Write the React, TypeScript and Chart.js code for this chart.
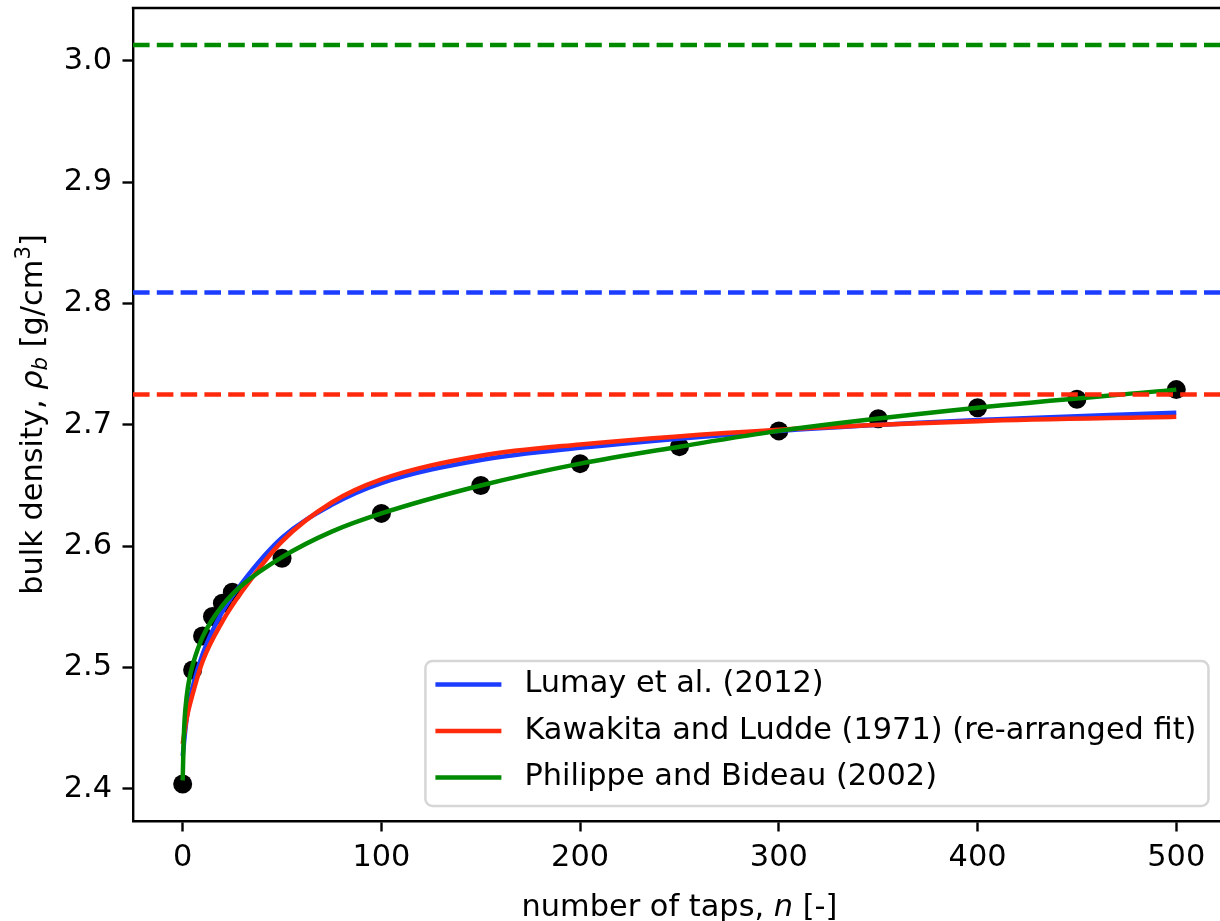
import { useEffect, useRef } from "react";
import { Chart, registerables } from "chart.js";

Chart.register(...registerables);

const FONT_FAMILY = "'DejaVu Sans', 'Liberation Sans', sans-serif";
const FONT_SIZE = 30.4;

// Measured tapped bulk density
const TAPS = [0, 5, 10, 15, 20, 25, 50, 100, 150, 200, 250, 300, 350, 400, 450, 500];
const MEASURED_DENSITY = [
  2.404, 2.498, 2.526, 2.542, 2.553, 2.562, 2.59, 2.627, 2.65, 2.668, 2.682, 2.695,
  2.705, 2.714, 2.721, 2.729,
];

// Fitted compaction curves (tap count, density) pairs
const LUMAY_TAPS = [0, 2, 5, 10, 20, 30, 50, 75, 100, 150, 200, 300, 400, 500];
const LUMAY_FIT = [
  2.427, 2.458, 2.484, 2.511, 2.546, 2.57, 2.607, 2.634, 2.652, 2.671, 2.681, 2.695,
  2.704, 2.71,
];
const KAWAKITA_TAPS = [0, 2, 5, 10, 20, 30, 50, 75, 100, 150, 200, 300, 400, 500];
const KAWAKITA_FIT = [
  2.437, 2.458, 2.478, 2.505, 2.538, 2.563, 2.604, 2.636, 2.655, 2.6745, 2.6838, 2.696,
  2.703, 2.7066,
];
const PHILIPPE_TAPS = [
  0, 0.5, 1, 2, 3.5, 5, 10, 20, 30, 50, 75, 100, 150, 200, 250, 300, 400, 500,
];
const PHILIPPE_FIT = [
  2.407, 2.44, 2.458, 2.476, 2.492, 2.502, 2.525, 2.551, 2.568, 2.591, 2.612, 2.627,
  2.65, 2.668, 2.682, 2.695, 2.714, 2.729,
];

// Asymptotic (n -> infinity) densities of each fit
const LUMAY_LIMIT = 2.809;
const KAWAKITA_LIMIT = 2.725;
const PHILIPPE_LIMIT = 3.013;

const SERIES_LABELS = [
  "Lumay et al. (2012)",
  "Kawakita and Ludde (1971) (re-arranged fit)",
  "Philippe and Bideau (2002)",
];

const X_TICKS = [0, 100, 200, 300, 400, 500];
const Y_TICKS = [2.4, 2.5, 2.6, 2.7, 2.8, 2.9, 3.0];

const X_AXIS_START = -25;
const X_AXIS_END = 525;
const X_VISIBLE_END = 522;
const Y_MIN = 2.3735;
const Y_MAX = 3.0435;

const BLUE = "#1c3cff";
const RED = "#ff2a0c";
const GREEN = "#008a00";
const LINE_W = 4.5;
const DASH = [16.6, 7.2];

type Seg = { text: string; italic?: boolean; scale?: number; shift?: number };

function segFont(s: Seg) {
  const size = FONT_SIZE * (s.scale ?? 1);
  return `${s.italic ? "italic " : ""}${size}px ${FONT_FAMILY}`;
}

function drawRich(ctx: CanvasRenderingContext2D, segs: Seg[], cx: number, baseline: number) {
  let total = 0;
  const widths = segs.map((s) => {
    ctx.font = segFont(s);
    const w = ctx.measureText(s.text).width;
    total += w;
    return w;
  });
  let x = cx - total / 2;
  ctx.textAlign = "left";
  ctx.textBaseline = "alphabetic";
  segs.forEach((s, i) => {
    ctx.font = segFont(s);
    ctx.fillText(s.text, x, baseline + (s.shift ?? 0));
    x += widths[i];
  });
}

const X_TITLE: Seg[] = [
  { text: "number of taps, " },
  { text: "n", italic: true },
  { text: " [-]" },
];
const Y_TITLE: Seg[] = [
  { text: "bulk density, " },
  { text: "ρ", italic: true },
  { text: "b", italic: true, scale: 0.7, shift: 5 },
  { text: " [g/cm" },
  { text: "3", scale: 0.7, shift: -12 },
  { text: "]" },
];

const framePlugin = {
  id: "frameAndAnnotations",
  afterDraw(chart: any) {
    const { ctx, chartArea, scales } = chart;
    const xs = scales.x;
    const axisRight = xs.getPixelForValue(X_AXIS_END);
    const axisLeft = xs.getPixelForValue(X_AXIS_START);
    ctx.save();

    // top spine
    ctx.strokeStyle = "#000";
    ctx.lineWidth = 2.4;
    ctx.beginPath();
    ctx.moveTo(chartArea.left - 1.2, chartArea.top);
    ctx.lineTo(chartArea.right + 2, chartArea.top);
    ctx.stroke();

    // axis titles
    ctx.fillStyle = "#000";
    drawRich(ctx, X_TITLE, (axisLeft + axisRight) / 2, 916);
    ctx.save();
    ctx.translate(42, (chartArea.top + chartArea.bottom) / 2);
    ctx.rotate(-Math.PI / 2);
    drawRich(ctx, Y_TITLE, 0, 0);
    ctx.restore();

    // legend
    const colors = [BLUE, RED, GREEN];
    ctx.font = `${FONT_SIZE}px ${FONT_FAMILY}`;
    const textW = Math.max(...SERIES_LABELS.map((l) => ctx.measureText(l).width));
    const right = axisRight - 17.5;
    const bottom = chartArea.bottom - 15;
    const height = 145;
    const top = bottom - height;
    const left = right - (99 + textW + 12);
    const r = 7;
    ctx.beginPath();
    ctx.moveTo(left + r, top);
    ctx.lineTo(right - r, top);
    ctx.arcTo(right, top, right, top + r, r);
    ctx.lineTo(right, bottom - r);
    ctx.arcTo(right, bottom, right - r, bottom, r);
    ctx.lineTo(left + r, bottom);
    ctx.arcTo(left, bottom, left, bottom - r, r);
    ctx.lineTo(left, top + r);
    ctx.arcTo(left, top, left + r, top, r);
    ctx.closePath();
    ctx.fillStyle = "rgba(255,255,255,0.8)";
    ctx.fill();
    ctx.strokeStyle = "#d6d6d6";
    ctx.lineWidth = 2.5;
    ctx.stroke();

    SERIES_LABELS.forEach((label, i) => {
      const y = top + 23.5 + i * 46.5;
      ctx.strokeStyle = colors[i];
      ctx.lineWidth = LINE_W;
      ctx.lineCap = "butt";
      ctx.beginPath();
      ctx.moveTo(left + 10, y);
      ctx.lineTo(left + 76, y);
      ctx.stroke();
      ctx.fillStyle = "#000";
      ctx.font = `${FONT_SIZE}px ${FONT_FAMILY}`;
      ctx.textAlign = "left";
      ctx.textBaseline = "middle";
      ctx.fillText(label, left + 99, y);
    });
    ctx.restore();
  },
};

function pts(xs: number[], ys: number[]) {
  return xs.map((x, i) => ({ x, y: ys[i] }));
}

function hline(y: number) {
  return [
    { x: X_AXIS_START, y },
    { x: X_AXIS_END, y },
  ];
}

export default function App() {
  const canvasRef = useRef<HTMLCanvasElement | null>(null);

  useEffect(() => {
    const canvas = canvasRef.current;
    if (!canvas) return;
    const fitLine = (label: string, data: any, color: string, order: number) => ({
      label,
      data,
      showLine: true,
      borderColor: color,
      borderWidth: LINE_W,
      pointRadius: 0,
      cubicInterpolationMode: "monotone" as const,
      fill: false,
      order,
    });
    const limitLine = (data: any, color: string, order: number) => ({
      label: "",
      data,
      showLine: true,
      borderColor: color,
      borderWidth: LINE_W,
      borderDash: DASH,
      pointRadius: 0,
      fill: false,
      order,
    });

    const chart = new Chart(canvas, {
      type: "scatter",
      data: {
        datasets: [
          {
            label: "measured",
            data: pts(TAPS, MEASURED_DENSITY),
            pointRadius: 9.5,
            pointBackgroundColor: "#000",
            pointBorderWidth: 0,
            showLine: false,
            order: 10,
          },
          fitLine(SERIES_LABELS[0], pts(LUMAY_TAPS, LUMAY_FIT), BLUE, 9),
          fitLine(SERIES_LABELS[1], pts(KAWAKITA_TAPS, KAWAKITA_FIT), RED, 8),
          fitLine(SERIES_LABELS[2], pts(PHILIPPE_TAPS, PHILIPPE_FIT), GREEN, 7),
          limitLine(hline(LUMAY_LIMIT), BLUE, 6),
          limitLine(hline(KAWAKITA_LIMIT), RED, 5),
          limitLine(hline(PHILIPPE_LIMIT), GREEN, 4),
        ],
      },
      options: {
        animation: false,
        responsive: false,
        devicePixelRatio: 1,
        events: [],
        layout: { autoPadding: false, padding: { top: 8, left: 0, right: 0, bottom: 0 } },
        plugins: { legend: { display: false }, tooltip: { enabled: false } },
        scales: {
          x: {
            type: "linear",
            min: X_AXIS_START,
            max: X_VISIBLE_END,
            afterBuildTicks: (s: any) => {
              s.ticks = X_TICKS.map((value) => ({ value }));
            },
            afterFit: (s: any) => {
              s.height = 100;
              s.paddingLeft = 0;
              s.paddingRight = 0;
            },
            ticks: {
              color: "#000",
              font: { family: FONT_FAMILY, size: FONT_SIZE },
              padding: 8,
              autoSkip: false,
              maxRotation: 0,
              callback: (v: any) => String(v),
            },
            grid: {
              display: true,
              drawOnChartArea: false,
              drawTicks: true,
              tickLength: 10.5,
              tickWidth: 2.4,
              tickColor: "#000",
              color: "#000",
            },
            border: { display: true, color: "#000", width: 2.4 },
          },
          y: {
            type: "linear",
            min: Y_MIN,
            max: Y_MAX,
            afterBuildTicks: (s: any) => {
              s.ticks = Y_TICKS.map((value) => ({ value }));
            },
            afterFit: (s: any) => {
              s.width = 133;
              s.paddingTop = 0;
              s.paddingBottom = 0;
            },
            ticks: {
              color: "#000",
              font: { family: FONT_FAMILY, size: FONT_SIZE },
              padding: 10.5,
              autoSkip: false,
              callback: (v: any) => Number(v).toFixed(1),
            },
            grid: {
              display: true,
              drawOnChartArea: false,
              drawTicks: true,
              tickLength: 10.5,
              tickWidth: 2.4,
              tickColor: "#000",
              color: "#000",
            },
            border: { display: true, color: "#000", width: 2.4 },
          },
        },
      },
      plugins: [framePlugin],
    });
    return () => chart.destroy();
  }, []);

  return (
    <div style={{ position: "fixed", left: 0, top: 0, width: 1220, height: 921, background: "#fff" }}>
      <canvas ref={canvasRef} width={1220} height={921} style={{ display: "block" }} />
    </div>
  );
}
